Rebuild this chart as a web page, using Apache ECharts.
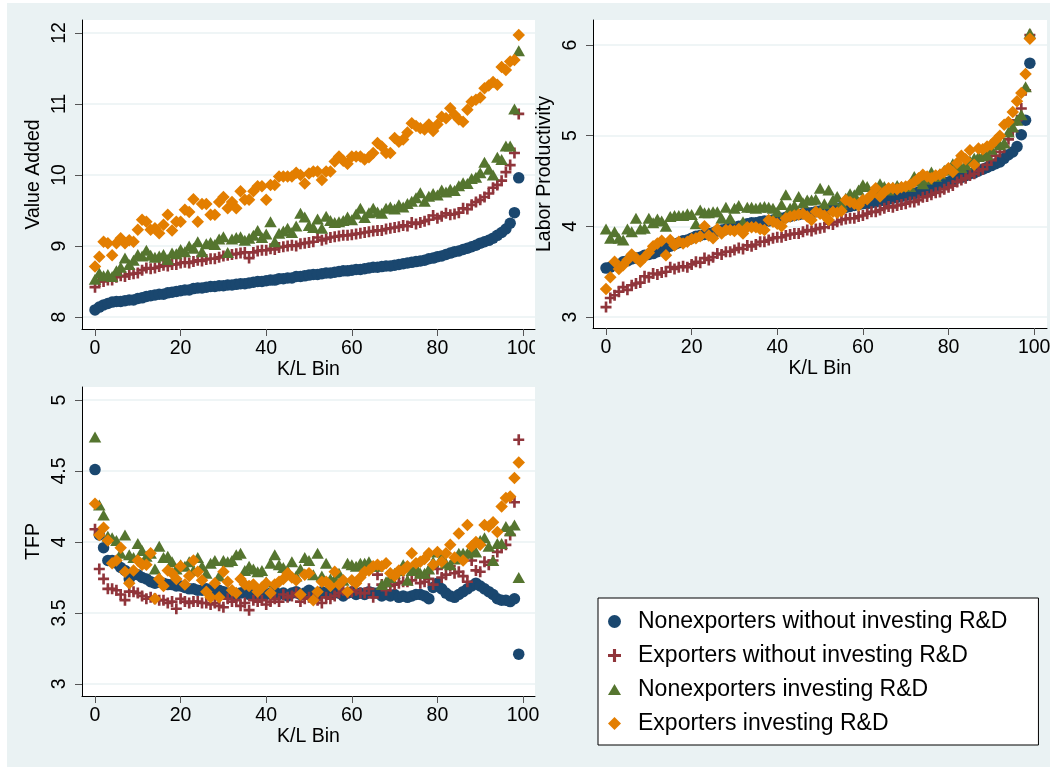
<!DOCTYPE html>
<html><head><meta charset="utf-8">
<script src="https://cdn.jsdelivr.net/npm/echarts@6/dist/echarts.min.js"></script>
<style>
html,body{margin:0;padding:0;background:#fff;}
#bg{position:absolute;left:7px;top:3px;width:1043px;height:764px;background:#eaf2f3;}
#c{position:absolute;left:0;top:0;width:1054px;height:770px;}
</style>
</head><body><div id="bg"></div><div id="c"></div>
<script>
const bins = [0,1,2,3,4,5,6,7,8,9,10,11,12,13,14,15,16,17,18,19,20,21,22,23,24,25,26,27,28,29,30,31,32,33,34,35,36,37,38,39,40,41,42,43,44,45,46,47,48,49,50,51,52,53,54,55,56,57,58,59,60,61,62,63,64,65,66,67,68,69,70,71,72,73,74,75,76,77,78,79,80,81,82,83,84,85,86,87,88,89,90,91,92,93,94,95,96,97,98,99];
const seriesNames = ['Nonexporters without investing R&D','Exporters without investing R&D','Nonexporters investing R&D','Exporters investing R&D'];
const xTicks = [0,20,40,60,80,100];
const vaTicks = [8,9,10,11,12];
const lpTicks = [3,4,5,6];
const tfpTicks = [3,3.5,4,4.5,5];

// Panel 1: Value Added
const vaNonexpNoRD = [8.10,8.14,8.17,8.19,8.21,8.22,8.22,8.23,8.24,8.24,
8.26,8.27,8.29,8.30,8.31,8.32,8.32,8.34,8.35,8.36,
8.37,8.38,8.38,8.40,8.41,8.41,8.42,8.43,8.43,8.44,
8.44,8.45,8.45,8.46,8.47,8.47,8.48,8.49,8.50,8.50,
8.51,8.52,8.52,8.54,8.54,8.55,8.55,8.57,8.57,8.58,
8.59,8.60,8.60,8.61,8.62,8.62,8.63,8.64,8.65,8.65,
8.66,8.67,8.67,8.68,8.69,8.70,8.70,8.71,8.72,8.72,
8.73,8.74,8.75,8.76,8.77,8.78,8.79,8.80,8.82,8.83,
8.85,8.86,8.88,8.90,8.92,8.93,8.95,8.97,8.99,9.01,
9.04,9.06,9.08,9.11,9.15,9.19,9.24,9.32,9.47,9.96];
const vaExpNoRD = [8.42,8.50,8.50,8.52,8.52,8.56,8.58,8.57,8.60,8.61,
8.62,8.66,8.69,8.68,8.69,8.71,8.73,8.72,8.74,8.74,
8.76,8.77,8.76,8.78,8.80,8.79,8.81,8.82,8.82,8.84,
8.86,8.87,8.88,8.89,8.90,8.91,8.83,8.91,8.93,8.94,
8.94,8.96,8.95,8.98,8.99,9.00,9.01,9.00,9.03,9.04,
9.05,9.06,9.12,9.08,9.10,9.12,9.13,9.14,9.15,9.15,
9.16,9.17,9.18,9.19,9.20,9.21,9.22,9.22,9.24,9.25,
9.26,9.27,9.29,9.28,9.33,9.31,9.33,9.35,9.37,9.43,
9.39,9.42,9.46,9.44,9.45,9.47,9.53,9.52,9.58,9.62,
9.65,9.69,9.74,9.82,9.86,9.92,10.04,10.14,10.31,10.86];
const vaNonexpRD = [8.53,8.62,8.58,8.60,8.57,8.65,8.70,8.83,8.74,8.80,
8.88,8.86,8.94,8.87,8.84,8.86,8.88,8.81,8.90,8.89,
8.95,8.92,9.00,8.97,9.06,8.92,9.03,9.05,9.02,9.10,
9.13,8.91,9.10,9.12,9.13,9.08,9.11,9.15,9.22,9.12,
9.17,9.34,9.06,9.18,9.21,9.25,9.19,9.28,9.46,9.41,
9.29,9.26,9.38,9.25,9.42,9.36,9.33,9.34,9.36,9.41,
9.37,9.45,9.53,9.40,9.47,9.53,9.48,9.46,9.53,9.55,
9.52,9.58,9.55,9.60,9.63,9.68,9.75,9.63,9.70,9.74,
9.72,9.79,9.76,9.80,9.78,9.85,9.89,9.88,9.95,9.97,
10.03,10.18,10.08,10.00,10.25,10.22,10.41,10.41,10.93,11.75];
const vaExpRD = [8.71,8.85,9.06,9.04,8.87,9.04,9.11,9.04,9.08,9.06,
9.23,9.37,9.34,9.23,9.25,9.18,9.30,9.44,9.22,9.34,
9.34,9.51,9.48,9.66,9.34,9.59,9.59,9.44,9.44,9.62,
9.69,9.53,9.62,9.53,9.77,9.65,9.65,9.77,9.84,9.84,
9.65,9.86,9.86,9.98,9.98,9.98,9.98,10.03,10.00,9.88,
10.02,10.05,10.05,9.93,10.05,10.05,10.19,10.26,10.20,10.16,
10.26,10.26,10.26,10.22,10.25,10.31,10.45,10.40,10.31,10.31,
10.52,10.47,10.50,10.60,10.73,10.69,10.66,10.64,10.71,10.62,
10.71,10.82,10.80,10.94,10.85,10.78,10.75,10.92,11.03,11.06,
11.09,11.22,11.26,11.31,11.27,11.52,11.48,11.60,11.62,11.97];

// Panel 2: Labor Productivity
const lpNonexpNoRD = [3.54,3.55,3.57,3.58,3.61,3.62,3.64,3.65,3.66,3.68,
3.69,3.70,3.72,3.74,3.76,3.78,3.80,3.82,3.84,3.85,
3.87,3.89,3.90,3.91,3.92,3.93,3.95,3.96,3.97,3.98,
3.99,4.00,4.01,4.03,4.04,4.04,4.05,4.06,4.06,4.07,
4.08,4.09,4.10,4.11,4.12,4.13,4.14,4.15,4.15,4.16,
4.17,4.18,4.18,4.19,4.20,4.21,4.21,4.22,4.23,4.24,
4.25,4.25,4.26,4.27,4.28,4.29,4.30,4.31,4.32,4.33,
4.34,4.35,4.36,4.38,4.40,4.41,4.43,4.44,4.46,4.48,
4.49,4.51,4.53,4.54,4.56,4.58,4.59,4.61,4.63,4.65,
4.67,4.69,4.71,4.75,4.79,4.82,4.88,5.01,5.17,5.80];
const lpExpNoRD = [3.11,3.21,3.24,3.28,3.33,3.30,3.35,3.37,3.38,3.45,
3.44,3.48,3.47,3.49,3.50,3.55,3.53,3.55,3.56,3.55,
3.58,3.61,3.60,3.65,3.63,3.66,3.70,3.69,3.72,3.72,
3.74,3.76,3.75,3.79,3.78,3.80,3.83,3.83,3.85,3.87,
3.88,3.88,3.90,3.91,3.92,3.92,3.94,3.96,3.95,3.97,
3.98,3.99,4.03,4.02,4.05,4.07,4.08,4.09,4.09,4.11,
4.12,4.14,4.16,4.16,4.18,4.20,4.22,4.21,4.23,4.24,
4.25,4.27,4.27,4.29,4.32,4.33,4.35,4.37,4.38,4.41,
4.43,4.45,4.49,4.51,4.53,4.56,4.58,4.61,4.63,4.68,
4.73,4.78,4.82,4.88,4.96,5.05,5.17,5.30,5.50,6.11];
const lpNonexpRD = [3.97,3.87,3.94,3.87,3.85,3.97,3.94,4.09,3.97,3.98,
4.09,4.04,4.08,4.06,4.00,4.11,4.12,4.12,4.12,4.14,
4.13,4.03,4.18,4.15,4.15,4.16,4.16,4.09,4.21,4.09,
4.20,4.23,4.05,4.21,4.21,4.20,4.21,4.22,4.21,4.20,
4.16,4.24,4.35,4.20,4.23,4.33,4.26,4.29,4.29,4.30,
4.42,4.25,4.40,4.29,4.33,4.25,4.31,4.36,4.35,4.40,
4.46,4.44,4.38,4.41,4.47,4.44,4.40,4.43,4.45,4.44,
4.44,4.44,4.55,4.50,4.47,4.52,4.60,4.55,4.58,4.62,
4.63,4.69,4.66,4.65,4.68,4.72,4.75,4.77,4.78,4.79,
4.85,4.92,4.90,4.92,5.04,5.10,5.17,5.23,5.54,6.13];
const lpExpRD = [3.31,3.44,3.61,3.53,3.57,3.63,3.69,3.65,3.61,3.66,
3.71,3.78,3.81,3.84,3.68,3.85,3.79,3.83,3.81,3.83,
3.86,3.87,3.89,4.00,3.90,3.87,3.97,3.92,3.96,3.96,
3.95,3.97,3.92,3.99,3.99,3.99,3.97,3.96,4.07,4.05,
4.03,4.00,4.09,4.11,4.12,4.13,4.14,4.11,4.07,4.16,
4.14,4.12,4.07,4.16,4.15,4.17,4.29,4.27,4.25,4.23,
4.29,4.30,4.35,4.42,4.33,4.38,4.42,4.42,4.41,4.43,
4.44,4.46,4.49,4.53,4.57,4.55,4.53,4.56,4.57,4.60,
4.64,4.60,4.70,4.78,4.74,4.84,4.68,4.86,4.85,4.88,
4.90,4.95,5.00,5.12,5.15,5.26,5.38,5.47,5.68,6.07];

// Panel 3: TFP
const tfpNonexpNoRD = [4.51,4.05,3.96,3.87,3.87,3.85,3.82,3.80,3.74,3.77,
3.77,3.75,3.74,3.72,3.71,3.72,3.71,3.70,3.70,3.69,
3.69,3.68,3.67,3.67,3.66,3.66,3.67,3.66,3.65,3.66,
3.65,3.64,3.64,3.63,3.64,3.65,3.63,3.64,3.63,3.64,
3.63,3.64,3.65,3.63,3.64,3.62,3.64,3.65,3.63,3.64,
3.66,3.64,3.63,3.65,3.64,3.63,3.65,3.64,3.62,3.64,
3.65,3.63,3.64,3.63,3.65,3.64,3.64,3.62,3.63,3.62,
3.63,3.61,3.62,3.61,3.62,3.63,3.63,3.62,3.60,3.68,
3.71,3.67,3.64,3.62,3.61,3.63,3.65,3.67,3.69,3.71,
3.69,3.67,3.65,3.63,3.60,3.59,3.59,3.58,3.60,3.21];
const tfpExpNoRD = [4.09,3.81,3.74,3.67,3.67,3.66,3.63,3.59,3.65,3.65,
3.64,3.62,3.60,3.61,3.60,3.59,3.59,3.57,3.58,3.53,
3.60,3.58,3.57,3.58,3.58,3.57,3.57,3.56,3.57,3.55,
3.54,3.60,3.58,3.59,3.55,3.57,3.52,3.59,3.58,3.59,
3.56,3.58,3.60,3.58,3.63,3.61,3.62,3.64,3.58,3.60,
3.61,3.60,3.59,3.57,3.61,3.60,3.62,3.64,3.66,3.64,
3.65,3.66,3.64,3.64,3.67,3.61,3.77,3.70,3.66,3.69,
3.70,3.71,3.72,3.72,3.73,3.78,3.71,3.72,3.74,3.70,
3.81,3.75,3.77,3.83,3.78,3.79,3.76,3.72,3.87,3.80,
3.79,3.86,3.84,3.87,3.93,3.96,3.98,4.05,4.28,4.72];
const tfpNonexpRD = [4.74,4.26,4.19,4.04,4.03,4.01,3.92,4.05,3.91,3.89,
3.99,3.94,3.90,3.92,3.81,3.97,3.89,3.90,3.86,3.81,
3.84,3.83,3.86,3.80,3.89,3.83,3.78,3.85,3.87,3.76,
3.87,3.86,3.87,3.91,3.92,3.80,3.83,3.81,3.79,3.80,
3.72,3.85,3.91,3.84,3.82,3.80,3.86,3.76,3.81,3.89,
3.87,3.77,3.92,3.76,3.85,3.74,3.74,3.78,3.73,3.85,
3.84,3.83,3.85,3.85,3.86,3.83,3.83,3.70,3.72,3.75,
3.78,3.80,3.84,3.73,3.80,3.82,3.78,3.78,3.81,3.86,
3.93,3.89,3.85,3.84,3.88,3.92,3.92,3.92,3.94,3.93,
4.01,4.03,3.97,3.87,3.99,3.99,4.11,4.08,4.12,3.75];
const tfpExpRD = [4.27,4.05,4.10,4.01,3.85,3.87,3.96,3.79,3.71,3.80,
3.87,3.84,3.84,3.92,3.60,3.74,3.69,3.80,3.78,3.74,
3.83,3.70,3.76,3.87,3.79,3.73,3.65,3.61,3.71,3.61,
3.79,3.72,3.66,3.64,3.74,3.70,3.69,3.70,3.65,3.68,
3.71,3.64,3.70,3.72,3.74,3.78,3.75,3.73,3.63,3.77,
3.78,3.59,3.65,3.72,3.72,3.69,3.79,3.70,3.73,3.65,
3.73,3.71,3.75,3.79,3.80,3.83,3.84,3.83,3.85,3.78,
3.76,3.80,3.80,3.83,3.92,3.85,3.86,3.88,3.92,3.84,
3.93,3.86,3.92,3.98,3.89,4.06,3.87,4.12,3.97,4.00,
3.98,4.12,4.11,4.14,4.07,4.25,4.31,4.32,4.45,4.56];

const FONT = 'Liberation Sans, Arial, Helvetica, sans-serif';
const colors = ['#1a476f','#90353b','#55752f','#e37e00'];
const plusPath = 'path://M3.8,0L6.2,0L6.2,3.8L10,3.8L10,6.2L6.2,6.2L6.2,10L3.8,10L3.8,6.2L0,6.2L0,3.8L3.8,3.8Z';
const triPath = 'path://M0,10L6,0L12,10Z';
const symbols = ['circle', plusPath, 'triangle', 'diamond'];
const sizes = [11.5, 11, [12.5,11], 12.5];
const legendIcons = ['circle', plusPath, triPath, 'diamond'];

const panels = [
  {grid:{left:82, top:20, width:453, height:309}, xmin:-3.04, xmax:102.8, ymin:7.831, ymax:12.183, yticks:vaTicks, name:'Value Added', data:[vaNonexpNoRD, vaExpNoRD, vaNonexpRD, vaExpRD]},
  {grid:{left:593, top:20, width:454, height:308}, xmin:-3.04, xmax:103.0, ymin:2.879, ymax:6.276, yticks:lpTicks, name:'Labor Productivity', data:[lpNonexpNoRD, lpExpNoRD, lpNonexpRD, lpExpRD]},
  {grid:{left:82, top:387, width:453, height:309}, xmin:-3.04, xmax:102.8, ymin:2.915, ymax:5.092, yticks:tfpTicks, name:'TFP', data:[tfpNonexpNoRD, tfpExpNoRD, tfpNonexpRD, tfpExpRD]}
];

const grids = [], xAxes = [], yAxes = [], series = [];
panels.forEach((p, pi) => {
  grids.push(Object.assign({show:true, backgroundColor:'#ffffff', borderWidth:0, containLabel:false, outerBoundsMode:'none'}, p.grid));
  xAxes.push({type:'value', gridIndex:pi, min:p.xmin, max:p.xmax,
    name:'K/L Bin', nameLocation:'middle', nameGap:30,
    nameTextStyle:{fontSize:19.5, color:'#000', fontFamily:FONT},
    axisLine:{show:true, onZero:false, lineStyle:{color:'#000', width:1}},
    axisTick:{show:true, length:7, customValues:xTicks, lineStyle:{color:'#555', width:1}},
    axisLabel:{customValues:xTicks, margin:10, fontSize:19.5, color:'#000', fontFamily:FONT},
    splitLine:{show:false}});
  yAxes.push({type:'value', gridIndex:pi, min:p.ymin, max:p.ymax,
    name:p.name, nameLocation:'middle', nameGap:38,
    nameTextStyle:{fontSize:19.5, color:'#000', fontFamily:FONT},
    axisLine:{show:true, onZero:false, lineStyle:{color:'#000', width:1}},
    axisTick:{show:true, length:7, customValues:p.yticks, lineStyle:{color:'#555', width:1}},
    axisLabel:{customValues:p.yticks, rotate:90, margin:12, fontSize:19.5, color:'#000', fontFamily:FONT},
    splitLine:{show:true, lineStyle:{color:'#eaf2f3', width:1.5}}});
  p.data.forEach((vals, k) => {
    series.push({type:'scatter', name:seriesNames[k], xAxisIndex:pi, yAxisIndex:pi,
      data: bins.map((b, i) => [b, vals[i]]),
      symbol:symbols[k], symbolSize:sizes[k],
      itemStyle:{color:colors[k], opacity:1},
      emphasis:{disabled:true}, silent:true, animation:false});
  });
});

const chart = echarts.init(document.getElementById('c'), null, {renderer:'canvas'});
chart.setOption({
  animation:false,
  backgroundColor:'transparent',
  textStyle:{fontFamily:FONT},
  grid:grids, xAxis:xAxes, yAxis:yAxes, series:series,
  legend:{orient:'vertical', left:598, top:598, itemWidth:13, itemHeight:13, itemGap:11,
    padding:[12,31,10,10], backgroundColor:'#fff', borderColor:'#000', borderWidth:1, borderRadius:0,
    selectedMode:false,
    textStyle:{fontSize:23, color:'#000', fontFamily:FONT, padding:[0,0,0,12]},
    data: seriesNames.map((n, k) => ({name:n, icon:legendIcons[k], itemStyle:{color:colors[k]}}))},
  graphic:{elements:[
    {type:'rect', z:100, silent:true, shape:{x:535, y:334, width:12, height:30}, style:{fill:'#eaf2f3'}}
  ]}
});
</script>
</body></html>
